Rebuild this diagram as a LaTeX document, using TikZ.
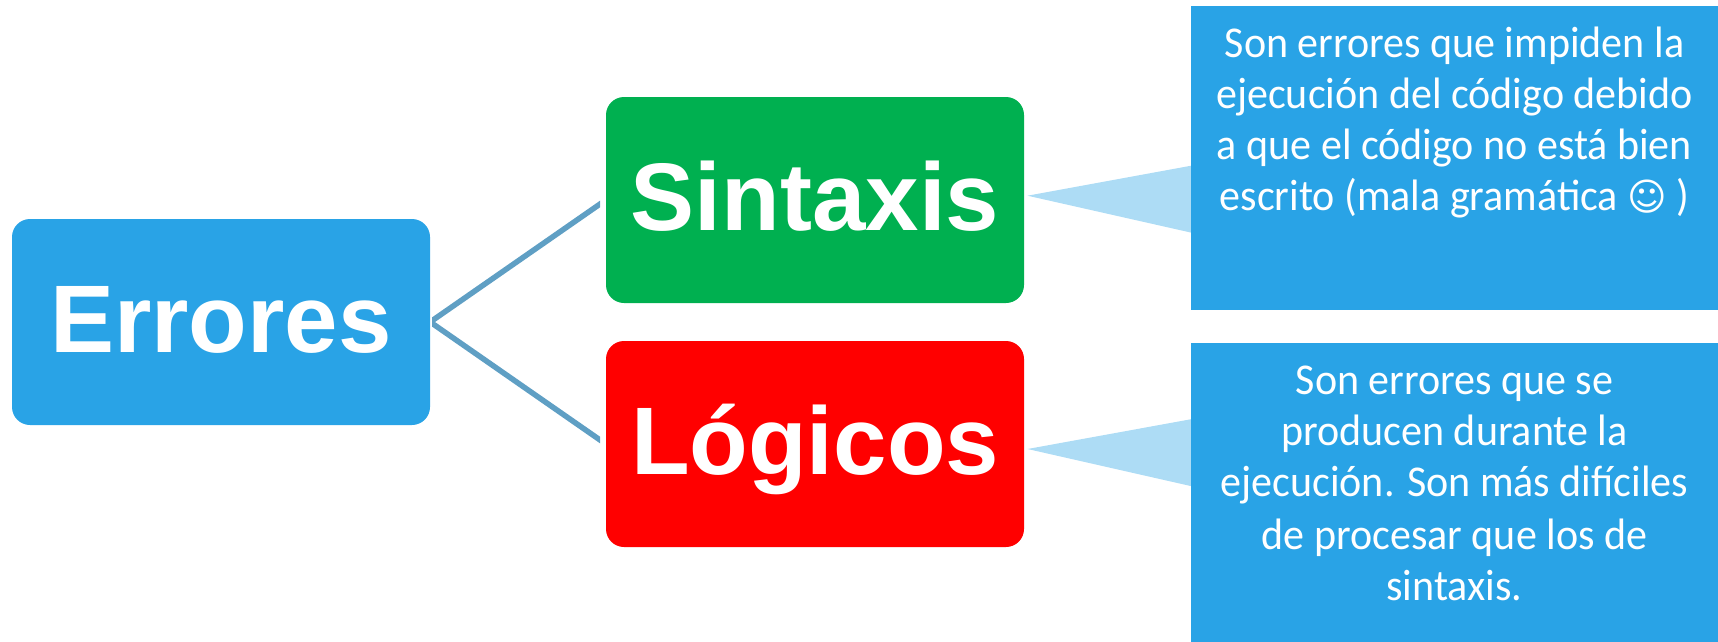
\documentclass[tikz,border=0pt]{standalone}
\usepackage{fontspec}
\setmainfont[FakeStretch=0.955]{Carlito}
\newfontfamily\headfont{Liberation Sans}
\newfontfamily\symfont{DejaVu Sans}
\definecolor{skyblue}{HTML}{29A3E6}
\definecolor{paleblue}{HTML}{ADDCF5}
\definecolor{linkblue}{HTML}{5F9FC4}
\definecolor{leafgreen}{HTML}{00B050}
\definecolor{leafred}{HTML}{FF0000}
\tikzset{
  headbox/.style={rounded corners=18pt, inner sep=0pt, minimum width=418pt, minimum height=206pt,
    text height=133pt, text depth=73pt, text=white, font=\headfont\bfseries\fontsize{96}{96}\selectfont},
  notebox/.style={fill=skyblue, inner sep=0pt, text=white, font=\fontsize{44}{51}\selectfont},
  pointer/.style={fill=paleblue, draw=none},
  link/.style={draw=linkblue, line width=5.5pt}
}
\begin{document}
\begin{tikzpicture}[x=1pt,y=-1pt]
\useasboundingbox (0,0) rectangle (1718,642);
\path[pointer] (1027.5,195.7) -- (1195,165) -- (1195,233.5) -- cycle;
\path[pointer] (1027.5,449) -- (1195,418.5) -- (1195,487) -- cycle;
\node[headbox, fill=skyblue] (err) at (221,322) {Errores};
\node[headbox, fill=leafgreen] (sin) at (815,200) {Sintaxis};
\node[headbox, fill=leafred] (log) at (815,444) {Lógicos};
\node[notebox] (n1) at (1454.5,158) {\begin{minipage}[c][304pt][t]{527pt}\centering\vspace*{21pt}%
Son errores que impiden la\\
ejecución del código debido\\
a que el código no está bien\\
escrito (mala gramática {\symfont\fontsize{38}{51}\selectfont ☺} )
\end{minipage}};
\node[notebox] (n2) at (1454.5,492.5) {\begin{minipage}[c][299pt][t]{527pt}\centering\vspace*{23pt}%
Son errores que se\\
producen durante la\\
ejecución. Son más difíciles\\[2pt]
de procesar que los de\\
sintaxis.
\end{minipage}};
\begin{scope}
\clip (432,0) rectangle (600,642);
\draw[link] (err.east) -- (sin.west);
\draw[link] (err.east) -- (log.west);
\end{scope}
\end{tikzpicture}
\end{document}
